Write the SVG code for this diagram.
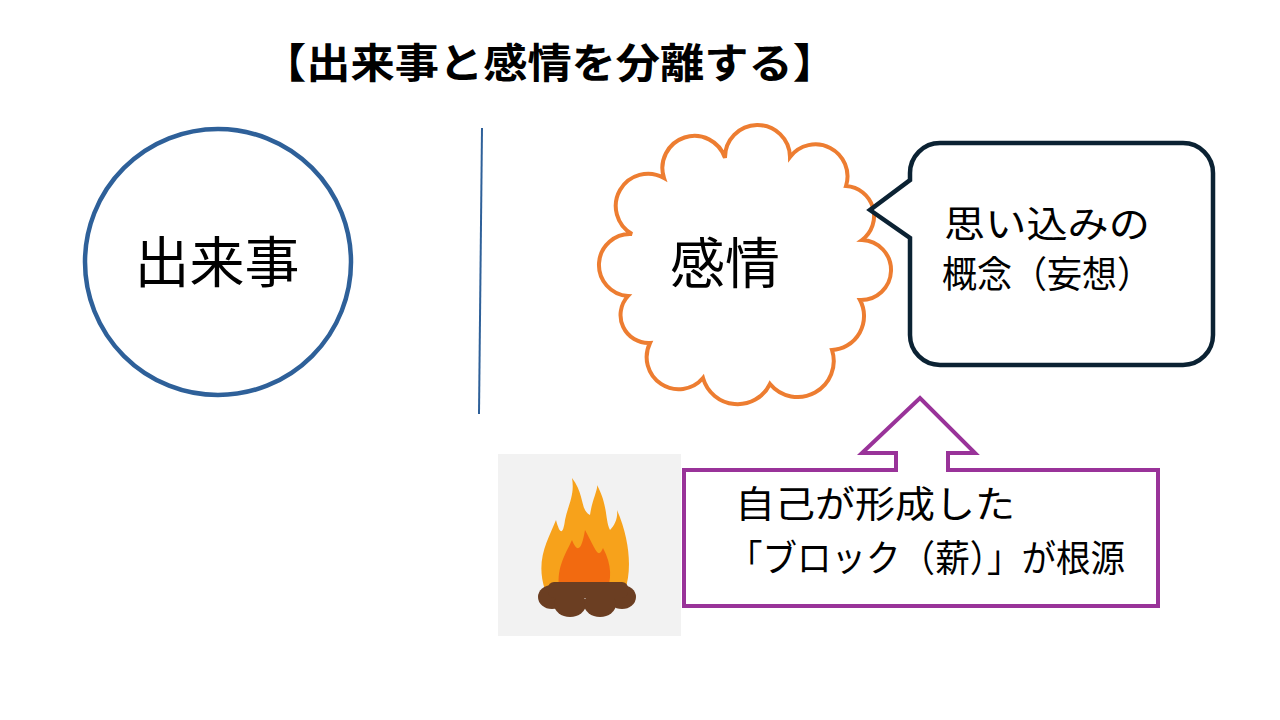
<svg xmlns="http://www.w3.org/2000/svg" width="1280" height="720" viewBox="0 0 1280 720">
<style>
.t{font-family:"Noto Sans CJK JP","Liberation Sans",sans-serif;fill:#000}
</style>
<rect width="1280" height="720" fill="#fff"/>
<text class="t" x="262" y="78" font-size="41" font-weight="bold" textLength="575" lengthAdjust="spacingAndGlyphs">【出来事と感情を分離する】</text>
<g id="event">
<circle cx="218" cy="262" r="133" fill="none" stroke="#2e6099" stroke-width="4.5"/>
<text class="t" x="217" y="282" font-size="55" text-anchor="middle">出来事</text>
</g>
<g id="connectors">
<line x1="482" y1="128" x2="479" y2="414" stroke="#2e6099" stroke-width="2"/>
</g>
<g id="emotion">
<path d="M632,234 A24,24 0 0 1 664,178 A32,32 0 0 1 725,158 A32,32 0 0 1 790,157 A32,32 0 0 1 846,186 A30,30 0 0 1 862,240 A30,30 0 0 1 860,300 A34,34 0 0 1 832,350 A36,36 0 0 1 770,384 A36,36 0 0 1 703,378 A32,32 0 0 1 650,343 A28,28 0 0 1 628,296 A30,30 0 0 1 632,234 Z" fill="#fff" stroke="#ed7d31" stroke-width="4"/>
<text class="t" x="725" y="283" font-size="55" text-anchor="middle">感情</text>
</g>
<g id="belief">
<path d="M940,143 H1183 A30,30 0 0 1 1213,173 V335 A30,30 0 0 1 1183,365 H940 A30,30 0 0 1 910,335 V238 L870,210 L910,180 V173 A30,30 0 0 1 940,143 Z" fill="#fff" stroke="#0b2233" stroke-width="4.5"/>
<text class="t" x="944" y="238" font-size="37" textLength="206" lengthAdjust="spacingAndGlyphs">思い込みの</text>
<text class="t" x="942" y="288" font-size="37" textLength="210" lengthAdjust="spacingAndGlyphs">概念（妄想）</text>
</g>
<g id="fire">
<rect x="498" y="454" width="183" height="182" fill="#f2f2f2"/>
<path d="M545,590 C535,560 548,540 556,520 C560,535 563,535 565,520 C568,505 575,495 572,478 C585,495 580,510 590,515 C592,500 598,490 597,485 C608,505 605,520 610,530 C615,525 618,518 617,510 C630,540 632,570 625,590 Z" fill="#f7a21b"/>
<path d="M560,592 C555,570 565,555 572,540 C578,555 582,548 585,530 C596,550 598,560 603,548 C612,565 612,580 606,592 Z" fill="#f26a10"/>
<g fill="#6b3e22">
<ellipse cx="552" cy="597" rx="14" ry="12"/>
<ellipse cx="622" cy="597" rx="14" ry="12"/>
<ellipse cx="570" cy="604" rx="16" ry="13"/>
<ellipse cx="600" cy="604" rx="16" ry="13"/>
<rect x="548" y="582" width="80" height="16" rx="6"/>
</g>
</g>
<g id="source">
<path d="M684,470 H896 V453 H862 L920,398 L975,453 H948 V470 H1158 V606 H684 Z" fill="#fff" stroke="#993399" stroke-width="4"/>
<text class="t" x="735" y="518" font-size="37" textLength="280" lengthAdjust="spacingAndGlyphs">自己が形成した</text>
<text class="t" x="728" y="572" font-size="37" textLength="397" lengthAdjust="spacingAndGlyphs">「ブロック（薪）」が根源</text>
</g>
</svg>
